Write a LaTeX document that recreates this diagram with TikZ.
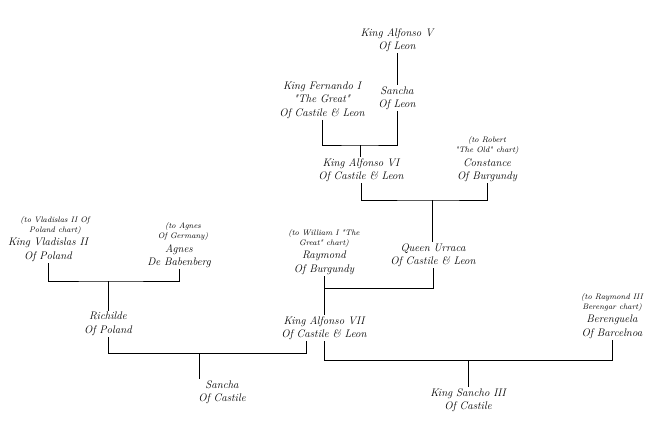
\documentclass[tikz,border=0pt]{standalone}
\usetikzlibrary{positioning}

\begin{document}
\begin{tikzpicture}[x=1bp, y=-1bp, line width=0.8pt,
  person/.style={align=center, inner sep=1pt, font=\fontsize{11}{13.5}\selectfont\itshape},
  note/.style={align=center, inner sep=0pt, font=\fontsize{8}{10.5}\selectfont\itshape}]

  \useasboundingbox (0,0) rectangle (648,432);

  % people
  \node [person] (alfonsoV) at (397,40) {King Alfonso V\\Of Leon};
  \node [person] (sanchaL) at (397,98) {Sancha\\Of Leon};
  \node [person] (fernando) at (322,100) {King Fernando I\\\textquotedbl The Great\textquotedbl\\Of Castile \& Leon};
  \node [person] (alfonsoVI) at (361,170) {King Alfonso VI\\Of Castile \& Leon};
  \node [person] (constance) at (487,170) {Constance\\Of Burgundy};
  \node [person] (urraca) at (433,255) {Queen Urraca\\Of Castile \& Leon};
  \node [person] (raymond) at (324,263) {Raymond\\Of Burgundy};
  \node [person] (alfonsoVII) at (324,328) {King Alfonso VII\\Of Castile \& Leon};
  \node [person] (vladislas) at (48,250) {King Vladislas II\\Of Poland};
  \node [person] (agnes) at (179,256) {Agnes\\De Babenberg};
  \node [person] (richilde) at (108,324) {Richilde\\Of Poland};
  \node [person] (sanchaC) at (222,392) {Sancha\\Of Castile};
  \node [person] (berenguela) at (612,327) {Berenguela\\Of Barcelnoa};
  \node [person] (sanchoIII) at (468,400) {King Sancho III\\Of Castile};

  % chart notes
  \node [note, above=2pt of constance] (constanceNote) {(to Robert\\\textquotedbl The Old\textquotedbl{} chart)};
  \node [note, above=2pt of raymond] (raymondNote) {(to William I \textquotedbl The\\Great\textquotedbl{} chart)};
  \node [note, above=2pt of vladislas, xshift=7bp] (vladislasNote) {(to Vladislas II Of\\Poland chart)};
  \node [note, above=2pt of agnes, xshift=4bp] (agnesNote) {(to Agnes\\Of Germany)};
  \node [note, above=2pt of berenguela] (berenguelaNote) {(to Raymond III\\Berengar chart)};

  % junctions
  \coordinate (j1) at (360,145);
  \coordinate (j2) at (432,200);
  \coordinate (j3) at (324,288);
  \coordinate (j4) at (108,281);
  \coordinate (j5) at (199,353);
  \coordinate (j6) at (468,360);

  \draw (alfonsoV) -- (sanchaL);
  \draw (fernando.south) |- (j1) -| (sanchaL.south);
  \draw (j1) -- (j1 |- alfonsoVI.north);
  \draw (alfonsoVI.south) |- (j2) -| (constance.south);
  \draw (j2) -- (j2 |- urraca.north);
  \draw (raymond.south) |- (j3) -| (urraca.south);
  \draw (j3) -- (alfonsoVII.north);
  \draw (vladislas.south) |- (j4) -| (agnes.south);
  \draw (j4) -- (richilde.north);
  \draw (richilde.south) |- (j5) -| ([xshift=-18bp]alfonsoVII.south);
  \draw (j5) -- (j5 |- sanchaC.north);
  \draw (alfonsoVII.south) |- (j6) -| (berenguela.south);
  \draw (j6) -- (j6 |- sanchoIII.north);
\end{tikzpicture}
\end{document}
